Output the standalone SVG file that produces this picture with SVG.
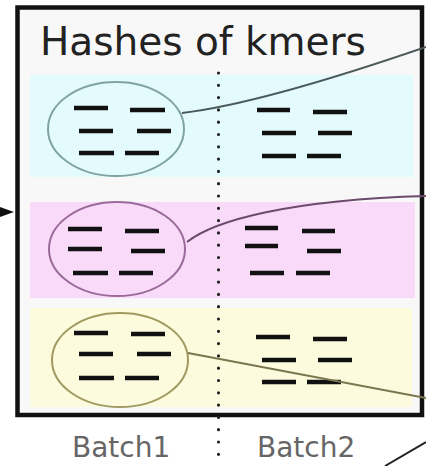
<svg xmlns="http://www.w3.org/2000/svg" width="426" height="466" viewBox="0 0 426 466">
<style>
.dash{stroke:#111;stroke-width:4.5;stroke-linecap:butt}
.title{font-family:"DejaVu Sans","Liberation Sans",sans-serif;font-size:39px;fill:#222}
.lab{font-family:"DejaVu Sans","Liberation Sans",sans-serif;font-size:28px;fill:#666}
.conn{fill:none;stroke-width:2}
</style>
<rect width="426" height="466" fill="#fff"/>
<g id="box">
<rect x="17.5" y="7.5" width="404.5" height="407.5" fill="#f8f8f8" stroke="#111" stroke-width="4.5"/>
<text class="title" x="40" y="55">Hashes of kmers</text>
</g>
<g id="band-cyan">
<rect x="30" y="75" width="383" height="102" fill="#e3fbfd"/>
</g>
<g id="band-pink">
<rect x="30" y="202" width="385" height="96" fill="#f9daf9"/>
</g>
<g id="band-yellow">
<rect x="30" y="308" width="382" height="99" fill="#fdfbdd"/>
</g>
<g id="divider">
<line x1="218.5" y1="73" x2="218.5" y2="466" stroke="#222" stroke-width="3.2" stroke-linecap="round" stroke-dasharray="0 12.3"/>
</g>
<g id="batch1-cyan">
<ellipse cx="116" cy="129" rx="68" ry="47" fill="none" stroke="#7fa3a3" stroke-width="2"/>
<g class="dash">
<line x1="74" y1="108" x2="108" y2="108"/><line x1="130" y1="110" x2="165" y2="110"/>
<line x1="79" y1="131" x2="113" y2="131"/><line x1="137" y1="131" x2="171" y2="131"/>
<line x1="79" y1="153" x2="114" y2="153"/><line x1="125" y1="153" x2="159" y2="153"/>
</g>
</g>
<g id="batch2-cyan" class="dash">
<line x1="257" y1="110" x2="290" y2="110"/><line x1="313" y1="112" x2="347" y2="112"/>
<line x1="262" y1="133" x2="296" y2="133"/><line x1="318" y1="133" x2="352" y2="133"/>
<line x1="262" y1="156" x2="296" y2="156"/><line x1="307" y1="156" x2="341" y2="156"/>
</g>
<g id="batch1-pink">
<ellipse cx="117" cy="249" rx="68" ry="47" fill="none" stroke="#9a6b9a" stroke-width="2"/>
<g class="dash">
<line x1="68" y1="229" x2="102" y2="229"/><line x1="125" y1="231" x2="159" y2="231"/>
<line x1="68" y1="249" x2="102" y2="249"/><line x1="131" y1="251" x2="165" y2="251"/>
<line x1="73" y1="273" x2="108" y2="273"/><line x1="119" y1="273" x2="153" y2="273"/>
</g>
</g>
<g id="batch2-pink" class="dash">
<line x1="245" y1="228" x2="278" y2="228"/><line x1="302" y1="231" x2="335" y2="231"/>
<line x1="245" y1="246" x2="278" y2="246"/><line x1="307" y1="251" x2="341" y2="251"/>
<line x1="250" y1="273" x2="284" y2="273"/><line x1="296" y1="273" x2="330" y2="273"/>
</g>
<g id="batch1-yellow">
<ellipse cx="120" cy="360" rx="68" ry="47" fill="none" stroke="#a09a60" stroke-width="2"/>
<g class="dash">
<line x1="74" y1="333" x2="108" y2="333"/><line x1="131" y1="334" x2="165" y2="334"/>
<line x1="79" y1="354" x2="113" y2="354"/><line x1="137" y1="354" x2="171" y2="354"/>
<line x1="79" y1="378" x2="114" y2="378"/><line x1="125" y1="378" x2="159" y2="378"/>
</g>
</g>
<g id="batch2-yellow" class="dash">
<line x1="256" y1="337" x2="290" y2="337"/><line x1="313" y1="339" x2="347" y2="339"/>
<line x1="262" y1="360" x2="296" y2="360"/><line x1="318" y1="360" x2="352" y2="360"/>
<line x1="262" y1="382" x2="296" y2="382"/><line x1="307" y1="382" x2="341" y2="382"/>
</g>
<g id="labels">
<text class="lab" x="72" y="457">Batch1</text>
<text class="lab" x="257" y="457">Batch2</text>
</g>
<g id="connectors">
<path class="conn" stroke="#4a5a5a" d="M182,113 Q260,104 426,47"/>
<path class="conn" stroke="#6b4a6b" d="M187,242 C215,220 290,200 426,196"/>
<path class="conn" stroke="#7a7650" d="M188,353 L426,398"/>
<path class="conn" stroke="#222" d="M385,466 L426,442"/>
<polygon points="0,207 14,212 0,217" fill="#111"/>
</g>
</svg>
